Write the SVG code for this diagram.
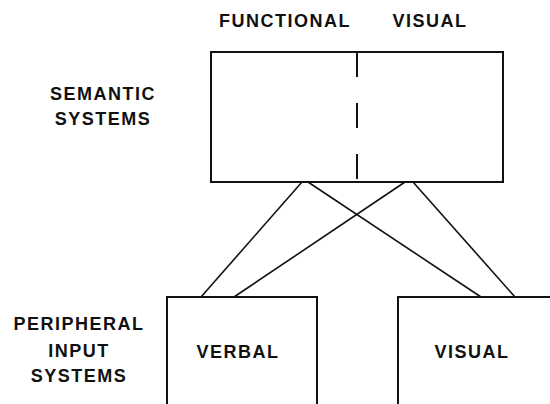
<svg xmlns="http://www.w3.org/2000/svg" width="550" height="404" viewBox="0 0 550 404">
<style>
.t{font-family:"Liberation Sans",Arial,sans-serif;font-weight:bold;font-size:18px;fill:#111;text-anchor:middle;letter-spacing:1.5px}
.box{fill:#fff;stroke:#111;stroke-width:2}
.ln{stroke:#111;stroke-width:1.6;fill:none}
</style>
<rect width="550" height="404" fill="#fff"/>
<text class="t" x="285" y="27">FUNCTIONAL</text>
<text class="t" x="430" y="27">VISUAL</text>
<text class="t" x="103" y="100">SEMANTIC</text>
<text class="t" x="103" y="125">SYSTEMS</text>
<text class="t" x="79" y="330">PERIPHERAL</text>
<text class="t" x="79" y="357">INPUT</text>
<text class="t" x="79" y="382">SYSTEMS</text>
<g id="connectors">
<line class="ln" x1="302" y1="182" x2="201" y2="297"/>
<line class="ln" x1="308" y1="182" x2="481" y2="297"/>
<line class="ln" x1="405" y1="182" x2="234" y2="297"/>
<line class="ln" x1="413" y1="182" x2="515" y2="297"/>
</g>
<g id="semantic">
<rect class="box" x="211" y="52" width="292" height="130"/>
<line x1="357" y1="52" x2="357" y2="182" stroke="#111" stroke-width="2" stroke-dasharray="25,26"/>
</g>
<g id="verbal">
<rect class="box" x="167" y="297" width="150" height="120"/>
<text class="t" x="238" y="358">VERBAL</text>
</g>
<g id="visual">
<rect class="box" x="398" y="297" width="170" height="120"/>
<text class="t" x="472" y="358">VISUAL</text>
</g>
</svg>
